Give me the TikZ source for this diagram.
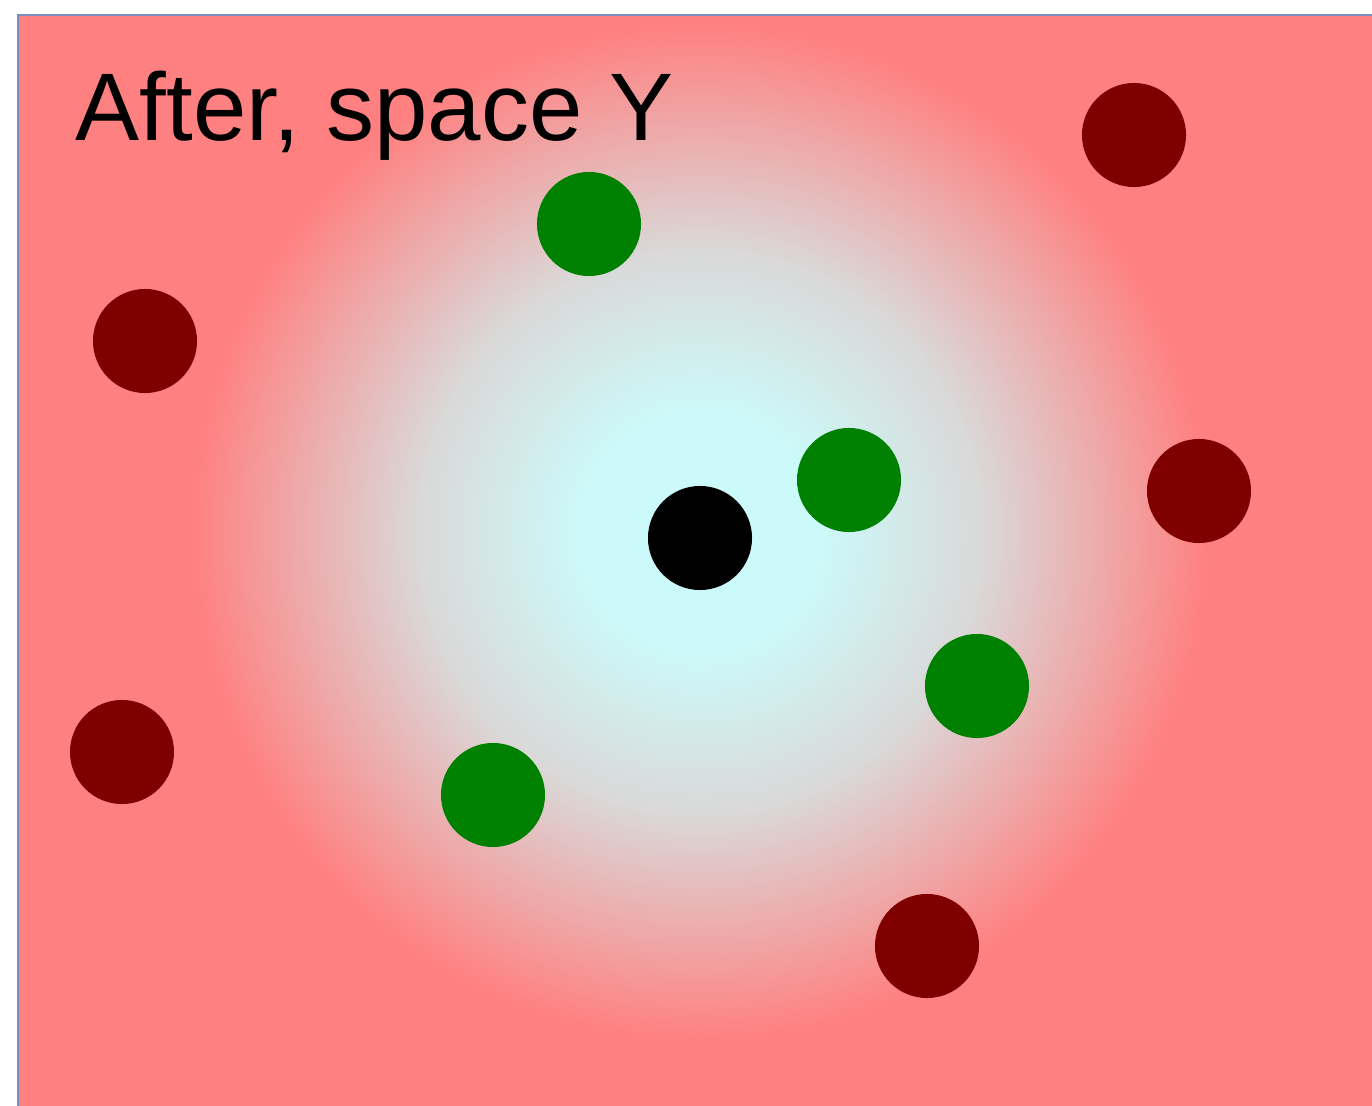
\documentclass[tikz,border=0pt]{standalone}
\usepackage{fontspec}
\setmainfont{Liberation Sans}

\definecolor{bgpink}{RGB}{255,128,128}
\definecolor{glowcyan}{RGB}{204,250,250}
\definecolor{glowgray}{RGB}{218,216,216}
\definecolor{frameblue}{RGB}{125,142,190}
\definecolor{neargreen}{RGB}{0,128,0}
\definecolor{farred}{RGB}{128,0,0}

% soft halo round the query point (radius 5.1cm = 144.6bp)
\pgfdeclareradialshading{halo}{\pgfpoint{0bp}{0bp}}{%
  color(0bp)=(glowcyan); color(33bp)=(glowcyan);
  color(80bp)=(glowgray); color(144bp)=(bgpink); color(145bp)=(bgpink)}

\begin{document}
\begin{tikzpicture}[
    x=0.01cm, y=-0.01cm,
    dot/.style={circle, inner sep=0pt, minimum size=1.04cm},
    query/.style={dot, fill=black},
    near/.style={dot, fill=neargreen},
    far/.style={dot, fill=farred},
    frame/.style={draw=frameblue, line width=0.02cm},
    title/.style={inner sep=0pt, anchor=base west, font=\fontsize{27.3}{30}\selectfont}
  ]
  \useasboundingbox (0,0) rectangle (1372,1106);
  \clip (0,0) rectangle (1372,1106);

  % background and halo
  \fill[bgpink] (18,15) rectangle (1390,1120);
  \node[inner sep=0pt] (halo) at (700,532) {\pgfuseshading{halo}};
  \draw[frame] (18,1120) -- (18,15) -- (1390,15);

  \node[title] (caption) at (75,140) {After, space Y};

  % query point
  \node[query] (q) at (700,538) {};

  % neighbours
  \node[near] (n1) at (589,224) {};
  \node[near] (n2) at (849,480) {};
  \node[near] (n3) at (977,686) {};
  \node[near] (n4) at (493,795) {};

  % far points
  \node[far] (f1) at (1134,135) {};
  \node[far] (f2) at (145,341) {};
  \node[far] (f3) at (1199,491) {};
  \node[far] (f4) at (122,752) {};
  \node[far] (f5) at (927,946) {};
\end{tikzpicture}
\end{document}
